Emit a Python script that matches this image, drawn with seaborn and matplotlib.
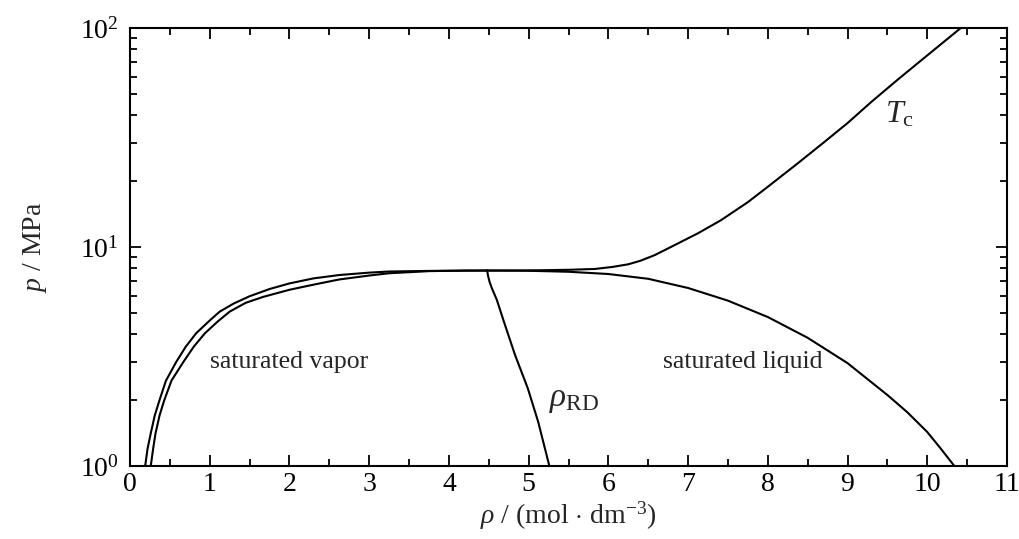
import matplotlib
matplotlib.use("Agg")
import matplotlib.pyplot as plt
import seaborn as sns
import pandas as pd
import numpy as np
from matplotlib.ticker import LogLocator, MultipleLocator, LogFormatterSciNotation

# ---- data (density in mol/dm3, pressure in MPa) ----
tc_rho = [0.19, 0.22, 0.26, 0.31, 0.37, 0.45, 0.58, 0.70, 0.83, 1.0, 1.125, 1.3,
          1.5, 1.75, 2.0, 2.3, 2.625, 3.0, 3.25, 3.75, 4.5, 5.0, 5.5, 5.83,
          6.05, 6.25, 6.4, 6.58, 6.8, 7.125, 7.41, 7.75, 8.0, 8.375, 8.7,
          9.0, 9.3, 9.625, 10.0, 10.42]
tc_p = [1.00, 1.20, 1.41, 1.70, 2.00, 2.45, 2.99, 3.51, 4.04, 4.62, 5.07, 5.52,
        5.96, 6.43, 6.82, 7.19, 7.45, 7.64, 7.73, 7.78, 7.81, 7.82, 7.87, 7.94,
        8.11, 8.34, 8.65, 9.18, 10.07, 11.56, 13.24, 16.03, 18.84, 24.10, 29.99,
        36.81, 46.03, 57.94, 74.99, 100.0]

vap_rho = [0.26, 0.29, 0.32, 0.37, 0.43, 0.52, 0.67, 0.80, 0.94, 1.1, 1.25,
           1.45, 1.67, 2.0, 2.3, 2.625, 3.0, 3.25, 3.75, 4.2, 4.48]
vap_p = [1.00, 1.20, 1.41, 1.70, 2.00, 2.455, 2.99, 3.51, 4.04, 4.57, 5.07,
         5.56, 5.92, 6.38, 6.73, 7.11, 7.41, 7.59, 7.76, 7.807, 7.81]

liq_rho = [4.48, 5.0, 5.5, 6.0, 6.5, 7.0, 7.5, 8.0, 8.5, 9.0, 9.5, 9.75,
           10.0, 10.17, 10.34]
liq_p = [7.81, 7.79, 7.71, 7.53, 7.16, 6.50, 5.69, 4.79, 3.85, 2.95, 2.11,
         1.76, 1.43, 1.20, 1.00]

rd_rho = [4.48, 4.49, 4.51, 4.54, 4.60, 4.69, 4.83, 4.99, 5.12, 5.26]
rd_p = [7.81, 7.41, 6.93, 6.47, 5.75, 4.56, 3.21, 2.26, 1.59, 1.00]

x_ticks = list(range(0, 12))

sns.set_theme(style="ticks")
plt.rcParams["font.family"] = ["Liberation Serif", "DejaVu Serif"]
plt.rcParams["mathtext.fontset"] = "custom"
plt.rcParams["mathtext.rm"] = "Liberation Serif"
plt.rcParams["mathtext.it"] = "Liberation Serif:italic"
plt.rcParams["mathtext.bf"] = "Liberation Serif:bold"

fig = plt.figure(figsize=(10.19, 5.39), dpi=100)
ax = fig.add_axes([0.1276, 0.1354, 0.8606, 0.8126])

frames = []
for name, xs, ys in [("Tc", tc_rho, tc_p), ("vap", vap_rho, vap_p),
                     ("liq", liq_rho, liq_p), ("rd", rd_rho, rd_p)]:
    frames.append(pd.DataFrame({"rho": xs, "p": ys, "curve": name}))
df = pd.concat(frames, ignore_index=True)

for name, sub in df.groupby("curve", sort=False):
    sns.lineplot(data=sub, x="rho", y="p", sort=False, ax=ax, color="black",
                 lw=1.5, estimator=None)

ax.set_yscale("log")
ax.set_xlim(0, 11)
ax.set_ylim(1, 100)
ax.set_xticks(x_ticks)
ax.set_xticklabels([str(t) for t in x_ticks])
ax.xaxis.set_minor_locator(MultipleLocator(0.5))
ax.yaxis.set_major_locator(LogLocator(base=10))
ax.yaxis.set_minor_locator(LogLocator(base=10, subs=np.arange(2, 10)))
ax.yaxis.set_major_formatter(LogFormatterSciNotation())

ax.tick_params(which="both", direction="in", top=True, right=True,
               labelsize=20, colors="black", width=1.3)
ax.tick_params(axis="x", which="major", pad=4)
ax.tick_params(axis="y", which="major", pad=8)
ax.tick_params(which="major", length=8)
ax.tick_params(which="minor", length=5)
for s in ax.spines.values():
    s.set_linewidth(1.5)
    s.set_color("black")

ax.set_xlabel(r"$\rho$ / (mol $\cdot$ dm$^{-3}$)", fontsize=20, labelpad=2)
ax.set_ylabel(r"$p$ / MPa", fontsize=20, labelpad=22)

ax.text(1.0, 3.0, "saturated vapor", fontsize=18.5, ha="left", va="center")
ax.text(6.69, 3.0, "saturated liquid", fontsize=18.5, ha="left", va="center")
ax.text(5.26, 2.0, r"$\rho_{\mathrm{RD}}$", fontsize=24, ha="left", va="center")
ax.text(9.47, 40, r"$T_{\mathrm{c}}$", fontsize=23, ha="left", va="center")

fig.savefig("out.png", dpi=100)
